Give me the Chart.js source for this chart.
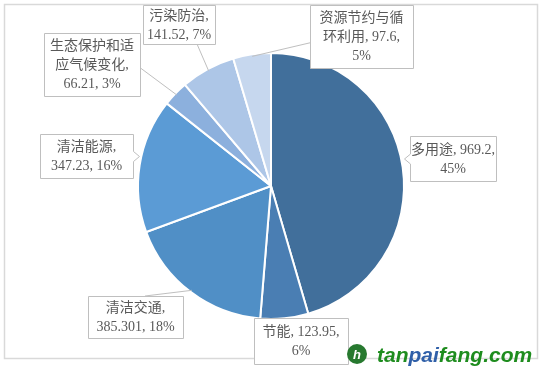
<!DOCTYPE html>
<html>
<head>
<meta charset="utf-8">
<script src="https://cdn.jsdelivr.net/npm/chart.js@4.4.1/dist/chart.umd.min.js"></script>
<style>
  html, body { margin: 0; padding: 0; background: #fff; }
</style>
</head>
<body>
<canvas id="graph" width="546" height="375"></canvas>
<script>
"use strict";
const CATEGORIES = ["多用途", "节能", "清洁交通", "清洁能源", "生态保护和适应气候变化", "污染防治", "资源节约与循环利用"];
const AMOUNTS = [969.2, 123.95, 385.301, 347.23, 66.21, 141.52, 97.6];
const SLICE_COLORS = ["#416f9b", "#4a7eb3", "#508fc6", "#5b9bd5", "#8cb0dd", "#adc6e7", "#c6d7ee"];

// callout boxes (one per slice): box in px, wrap width, leader style
const CALLOUTS = [
    { x: 410, y: 136, w: 86, h: 45, wrap: 86, tip: "left" },
    { x: 254, y: 318, w: 94, h: 46, wrap: 86, tip: "none" },
    { x: 88, y: 296, w: 95, h: 42, wrap: 90, tip: "line", ax: 0.6, ay: 0 },
    { x: 40, y: 134, w: 93, h: 44, wrap: 85, tip: "right" },
    { x: 44, y: 33, w: 96, h: 63, wrap: 88, tip: "line", ax: 1, ay: 0.55 },
    { x: 143, y: 5, w: 72, h: 39, wrap: 68, tip: "line", ax: 0.75, ay: 1 },
    { x: 310, y: 5, w: 103, h: 63, wrap: 88, tip: "line", ax: 0, ay: 0.6 },
];

const FONT = "14px 'Liberation Serif', 'Noto Sans CJK SC', serif";

function wrapText(ctx, text, maxW) {
    const tokens = text.match(/[\u4e00-\u9fff]|[^\s\u4e00-\u9fff]+\s*|\s+/g);
    const lines = [];
    let cur = "";
    for (const t of tokens) {
        const trial = cur + t;
        if (cur && ctx.measureText(trial.trimEnd()).width > maxW) {
            lines.push(cur.trimEnd());
            cur = t.trimStart();
        } else {
            cur = trial;
        }
    }
    if (cur) lines.push(cur.trimEnd());
    return lines;
}

const frame = {
    id: "frame",
    beforeDraw(chart) {
        const ctx = chart.ctx;
        ctx.save();
        ctx.fillStyle = "#fff";
        ctx.fillRect(0, 0, chart.width, chart.height);
        ctx.strokeStyle = "#d9d9d9";
        ctx.lineWidth = 1.5;
        ctx.strokeRect(4.5, 4.5, 533, 354);
        ctx.restore();
    },
};

const callouts = {
    id: "callouts",
    afterDatasetsDraw(chart) {
        const ctx = chart.ctx;
        const arcs = chart.getDatasetMeta(0).data;
        const total = AMOUNTS.reduce((a, b) => a + b, 0);
        ctx.save();
        ctx.font = FONT;
        arcs.forEach((arc, i) => {
            const c = CALLOUTS[i];
            const mid = (arc.startAngle + arc.endAngle) / 2;
            const r = arc.outerRadius - 2;
            const px = arc.x + Math.cos(mid) * r;
            const py = arc.y + Math.sin(mid) * r;
            ctx.strokeStyle = "#bfbfbf";
            ctx.lineWidth = 1;
            if (c.tip === "line") {
                ctx.beginPath();
                ctx.moveTo(c.x + c.w * c.ax, c.y + c.h * c.ay);
                ctx.lineTo(px, py);
                ctx.stroke();
            }
            ctx.fillStyle = "#fff";
            ctx.beginPath();
            const L = c.x + 0.5, T = c.y + 0.5, R = c.x + c.w + 0.5, B = c.y + c.h + 0.5;
            const my = (T + B) / 2;
            ctx.moveTo(L, T);
            ctx.lineTo(R, T);
            if (c.tip === "right") {
                ctx.lineTo(R, my - 5);
                ctx.lineTo(R + 6, my);
                ctx.lineTo(R, my + 5);
            }
            ctx.lineTo(R, B);
            ctx.lineTo(L, B);
            if (c.tip === "left") {
                ctx.lineTo(L, my + 5);
                ctx.lineTo(L - 6, my);
                ctx.lineTo(L, my - 5);
            }
            ctx.closePath();
            ctx.fill();
            ctx.stroke();

            const pct = Math.round(AMOUNTS[i] / total * 100);
            const text = CATEGORIES[i] + ", " + AMOUNTS[i] + ", " + pct + "%";
            const lines = wrapText(ctx, text, c.wrap);
            const lh = 19;
            ctx.fillStyle = "#595959";
            ctx.textAlign = "center";
            ctx.textBaseline = "middle";
            const y0 = c.y + c.h / 2 - (lines.length - 1) * lh / 2 + 1;
            lines.forEach((ln, k) => ctx.fillText(ln, c.x + c.w / 2, y0 + k * lh));
        });
        ctx.restore();
    },
};

const watermark = {
    id: "watermark",
    afterDraw(chart) {
        const ctx = chart.ctx;
        ctx.save();
        ctx.fillStyle = "#27792f";
        ctx.beginPath();
        ctx.arc(357, 354, 10, 0, Math.PI * 2);
        ctx.fill();
        ctx.fillStyle = "#fff";
        ctx.font = "bold italic 13px 'Liberation Sans', sans-serif";
        ctx.textAlign = "center";
        ctx.textBaseline = "middle";
        ctx.fillText("h", 357, 355);
        ctx.font = "bold italic 21px 'Liberation Sans', 'DejaVu Sans', sans-serif";
        ctx.textAlign = "left";
        ctx.textBaseline = "alphabetic";
        let x = 377;
        [["tan", "#1e8c1e"], ["pai", "#2f5fa8"], ["fang.com", "#1e8c1e"]].forEach(([s, col]) => {
            ctx.fillStyle = col;
            ctx.fillText(s, x, 362);
            x += ctx.measureText(s).width;
        });
        ctx.restore();
    },
};

function drawGraph() {
    const config = {
        type: "pie",
        data: {
            labels: CATEGORIES,
            datasets: [
                {
                    data: AMOUNTS,
                    backgroundColor: SLICE_COLORS,
                    borderColor: "#fff",
                    borderWidth: 2,
                },
            ],
        },
        options: {
            responsive: false,
            animation: false,
            layout: {
                padding: { left: 137, right: 141, top: 52, bottom: 55 },
            },
            plugins: {
                legend: { display: false },
                tooltip: { enabled: false },
            },
        },
        plugins: [frame, callouts, watermark],
    };
    new Chart(document.getElementById("graph"), config);
}
drawGraph();
</script>
</body>
</html>
